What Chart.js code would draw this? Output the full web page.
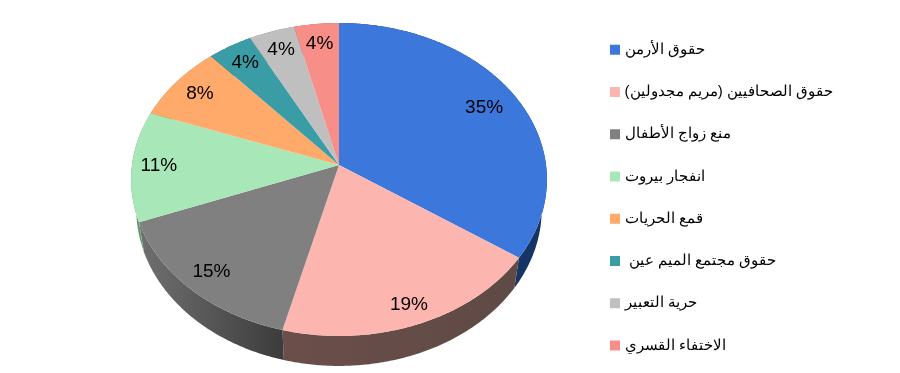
<!DOCTYPE html>
<html>
<head>
<meta charset="utf-8">
<style>
  html, body { margin: 0; padding: 0; background: #fff; }
  #wrap { width: 900px; height: 373px; }
</style>
<script src="https://cdn.jsdelivr.net/npm/chart.js@4"></script>
</head>
<body>
<div id="wrap"><canvas id="pie" width="900" height="373"></canvas></div>
<script>
const categories = [
  'حقوق الأرمن',
  'حقوق الصحافيين (مريم مجدولين)',
  'منع زواج الأطفال',
  'انفجار بيروت',
  'قمع الحريات',
  'حقوق مجتمع الميم عين ',
  'حرية التعبير',
  'الاختفاء القسري'
];
const shares = [34.6, 19.4, 15.2, 11.4, 7.9, 3.8, 3.9, 3.8];
const topColors = ['#3c78dc', '#fdb5b0', '#808080', '#a8e8b8', '#ffa96b', '#3a9da5', '#bfbfbf', '#f78e88'];
const wallColors = [
  ['#132e5a', '#163565'],
  ['#5f4a45', '#6b4e4a'],
  ['#3c3c3c', '#707070'],
  ['#5f9a6e', '#7cc08e'],
  ['#a86f45', '#a86f45'],
  ['#256a70', '#256a70'],
  ['#7f7f7f', '#7f7f7f'],
  ['#a55f5a', '#a55f5a']
];
const labelReach = [0.82, 0.89, 0.87, 0.87, 0.85, 0.85, 0.85, 0.85];

// tilted disc, the far edge is a bit smaller than the near one
const view = { cx: 339, cy: 165, b: 207, a: 155.1, k: 0.0926, depth: 30, floorScale: 0.975 };

function project(angle, r) {
  const u = Math.cos(angle) * r;
  const v = Math.sin(angle) * r;
  const d = 1 - view.k * v;
  return { x: view.cx + view.b * u / d, y: view.cy + view.a * v / d };
}

function traceRim(ctx, from, to, floor, first) {
  const n = Math.max(2, Math.ceil(Math.abs(to - from) / 0.01));
  for (let i = 0; i <= n; i++) {
    const p = project(from + (to - from) * i / n, 1);
    const x = floor ? view.cx + (p.x - view.cx) * view.floorScale : p.x;
    const y = floor ? p.y + view.depth : p.y;
    if (i === 0 && first) ctx.moveTo(x, y);
    else ctx.lineTo(x, y);
  }
}

const tiltedPie = {
  id: 'tiltedPie',
  beforeDatasetsDraw(chart) {
    const ctx = chart.ctx;
    const arcs = chart.getDatasetMeta(0).data;

    // side walls first, the top covers whatever is hidden
    arcs.forEach((arc, i) => {
      const a0 = arc.startAngle, a1 = arc.endAngle;
      const p0 = project(a0, 1), p1 = project(a1, 1);
      const g = ctx.createLinearGradient(Math.min(p0.x, p1.x), 0, Math.max(p0.x, p1.x), 0);
      const flip = p0.x > p1.x;
      g.addColorStop(0, wallColors[i][flip ? 1 : 0]);
      g.addColorStop(1, wallColors[i][flip ? 0 : 1]);
      ctx.beginPath();
      traceRim(ctx, a0, a1, false, true);
      traceRim(ctx, a1, a0, true, false);
      ctx.closePath();
      ctx.fillStyle = wallColors[i][0] === wallColors[i][1] ? wallColors[i][0] : g;
      ctx.fill();
    });

    arcs.forEach((arc, i) => {
      ctx.beginPath();
      ctx.moveTo(view.cx, view.cy);
      traceRim(ctx, arc.startAngle, arc.endAngle, false, false);
      ctx.closePath();
      ctx.fillStyle = topColors[i];
      ctx.fill();
    });

    ctx.save();
    ctx.fillStyle = '#000';
    ctx.font = '19px "Liberation Sans", Arial, sans-serif';
    ctx.textAlign = 'center';
    ctx.textBaseline = 'middle';
    arcs.forEach((arc, i) => {
      const p = project((arc.startAngle + arc.endAngle) / 2, labelReach[i]);
      ctx.fillText(Math.round(shares[i]) + '%', p.x, p.y);
    });
    ctx.restore();
    return false;
  }
};

new Chart(document.getElementById('pie'), {
  type: 'pie',
  data: {
    labels: categories,
    datasets: [{ data: shares, backgroundColor: topColors, borderWidth: 0 }]
  },
  options: {
    responsive: false,
    animation: false,
    // negative bottom keeps the full height for the legend, only moves it down
    layout: { padding: { right: 57, top: 11, bottom: -11 } },
    plugins: {
      tooltip: { enabled: false },
      legend: {
        position: 'right',
        textDirection: 'rtl',
        labels: {
          // thin box with a thick border: same 10px square, closer to the text
          boxWidth: 4,
          boxHeight: 4,
          padding: 27.25,
          color: '#000',
          font: { family: '"Liberation Sans", Arial, sans-serif', size: 15 },
          generateLabels(chart) {
            return Chart.overrides.pie.plugins.legend.labels.generateLabels(chart)
              .map(item => ({ ...item, strokeStyle: item.fillStyle, lineWidth: 6 }));
          }
        }
      }
    }
  },
  plugins: [tiltedPie]
});
</script>
</body>
</html>
